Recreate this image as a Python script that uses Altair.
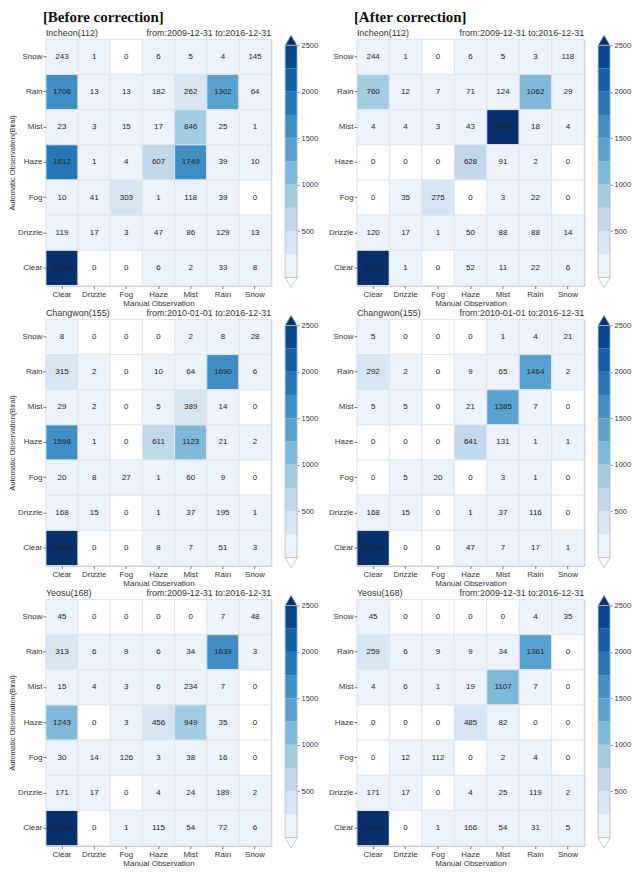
import altair as alt
import pandas as pd

# Category order (rows top->bottom, columns left->right)
auto_obs = ["Snow", "Rain", "Mist", "Haze", "Fog", "Drizzle", "Clear"]
manual_obs = ["Clear", "Drizzle", "Fog", "Haze", "Mist", "Rain", "Snow"]

# Confusion matrices: rows = auto_obs, cols = manual_obs
incheon_before = [
    [243, 1, 0, 6, 5, 4, 145],
    [1706, 13, 13, 182, 262, 1302, 64],
    [23, 3, 15, 17, 846, 25, 1],
    [1812, 1, 4, 607, 1749, 39, 10],
    [10, 41, 303, 1, 118, 39, 0],
    [119, 17, 3, 47, 86, 129, 13],
    [7305, 0, 0, 6, 2, 33, 8],
]
incheon_after = [
    [244, 1, 0, 6, 5, 3, 118],
    [760, 12, 7, 71, 124, 1062, 29],
    [4, 4, 3, 43, 2534, 18, 4],
    [0, 0, 0, 628, 91, 2, 0],
    [0, 35, 275, 0, 3, 22, 0],
    [120, 17, 1, 50, 88, 88, 14],
    [9131, 1, 0, 52, 11, 22, 6],
]
changwon_before = [
    [8, 0, 0, 0, 2, 8, 28],
    [315, 2, 0, 10, 64, 1690, 6],
    [29, 2, 0, 5, 389, 14, 0],
    [1598, 1, 0, 611, 1123, 21, 2],
    [20, 8, 27, 1, 60, 9, 0],
    [168, 15, 0, 1, 37, 195, 1],
    [11099, 0, 0, 8, 7, 51, 3],
]
changwon_after = [
    [5, 0, 0, 0, 1, 4, 21],
    [292, 2, 0, 9, 65, 1464, 2],
    [5, 5, 0, 21, 1385, 7, 0],
    [0, 0, 0, 641, 131, 1, 1],
    [0, 5, 20, 0, 3, 1, 0],
    [168, 15, 0, 1, 37, 116, 0],
    [12714, 0, 0, 47, 7, 17, 1],
]
yeosu_before = [
    [45, 0, 0, 0, 0, 7, 48],
    [313, 6, 9, 6, 34, 1639, 3],
    [15, 4, 3, 6, 234, 7, 0],
    [1243, 0, 3, 456, 949, 35, 0],
    [30, 14, 126, 3, 38, 16, 0],
    [171, 17, 0, 4, 24, 189, 2],
    [11720, 0, 1, 115, 54, 72, 6],
]
yeosu_after = [
    [45, 0, 0, 0, 0, 4, 35],
    [259, 6, 9, 9, 34, 1361, 0],
    [4, 6, 1, 19, 1107, 7, 0],
    [0, 0, 0, 485, 82, 0, 0],
    [0, 12, 112, 0, 2, 4, 0],
    [171, 17, 0, 4, 25, 119, 2],
    [12992, 0, 1, 166, 54, 31, 5],
]

stations = ["Incheon(112)", "Changwon(155)", "Yeosu(168)"]
periods = ["from:2009-12-31 to:2016-12-31",
           "from:2010-01-01 to:2016-12-31",
           "from:2009-12-31 to:2016-12-31"]

# colour bar
cbar_edges = [0, 250, 500, 750, 1000, 1250, 1500, 1750, 2000, 2250, 2500]
cbar_ticks = [500, 1000, 1500, 2000, 2500]
thresholds = [1, 250, 500, 750, 1000, 1250, 1500, 1750, 2000, 2250, 2500]
colors = ["#ffffff", "#edf3fa", "#d6e5f4", "#bfd8ec", "#a2cce2", "#7eb8da",
          "#59a2cf", "#3f8fc4", "#2777b8", "#1360a7", "#08488f", "#08306b"]

FONT = "Liberation Sans"
PW_L, PW_R, PH = 226, 228, 247
CBW = 12      # width of the colour bar itself
CWL = 58      # left colour-bar cell (bar + room for its labels)
COLSP = 14

color_scale = alt.Scale(type="threshold", domain=thresholds, range=colors)


def panel(matrix, station, period, show_ytitle, big_title, pw):
    rows = []
    for i, a in enumerate(auto_obs):
        for j, m in enumerate(manual_obs):
            rows.append({"auto": a, "manual": m, "count": matrix[i][j]})
    df = pd.DataFrame(rows)
    x = alt.X("manual:N", sort=manual_obs, scale=alt.Scale(domain=manual_obs),
              axis=alt.Axis(title="Manual Observation", labelAngle=0, labelFontSize=8,
                            titleFontSize=8, titleFontWeight="normal", tickSize=3,
                            labelPadding=2, titlePadding=1, domain=False,
                            tickColor="#777", labelColor="#333", titleColor="#333"))
    yaxis_kwargs = dict(labelFontSize=8, tickSize=3, labelPadding=1, domain=False,
                        tickColor="#777", labelColor="#333")
    if show_ytitle:
        y_axis = alt.Axis(title="Automatic Observation(Biral)", titleFontSize=7.5,
                          titleFontWeight="normal", titlePadding=1, titleColor="#333",
                          **yaxis_kwargs)
    else:
        y_axis = alt.Axis(title=None, **yaxis_kwargs)
    y = alt.Y("auto:N", sort=auto_obs, scale=alt.Scale(domain=auto_obs), axis=y_axis)

    rect = alt.Chart(df).mark_rect(stroke="#e2e6eb", strokeWidth=1).encode(
        x=x, y=y,
        color=alt.Color("count:Q", scale=color_scale, legend=None))
    txt = alt.Chart(df).mark_text(fontSize=8, color="#222", font=FONT).encode(
        x=x, y=y, text=alt.Text("count:Q", format="d"))
    lab = alt.Chart(pd.DataFrame({"t": [station]})).mark_text(
        align="left", baseline="alphabetic", fontSize=9, color="#333", font=FONT
    ).encode(text="t:N", x=alt.value(0), y=alt.value(-3))
    per = alt.Chart(pd.DataFrame({"t": [period]})).mark_text(
        align="right", baseline="alphabetic", fontSize=9, color="#333", font=FONT
    ).encode(text="t:N", x=alt.value(pw), y=alt.value(-3))
    layers = [rect, txt, lab, per]
    if big_title:
        big = alt.Chart(pd.DataFrame({"t": [big_title]})).mark_text(
            align="left", baseline="alphabetic", fontSize=15, fontWeight="bold",
            font="Liberation Serif", color="#111"
        ).encode(text="t:N", x=alt.value(-3), y=alt.value(-17))
        layers.append(big)
    return alt.layer(*layers).properties(width=pw, height=PH)


def colorbar(cell_width):
    bins = pd.DataFrame({
        "lo": cbar_edges[:-1],
        "hi": cbar_edges[1:],
    })
    bins["mid"] = (bins["lo"] + bins["hi"]) / 2
    yscale = alt.Scale(domain=[0, 2500], range=[239, 6], nice=False, zero=False)
    cb_axis = alt.Axis(orient="right", offset=-(cell_width - CBW), values=cbar_ticks,
                       format="d", title=None, grid=False, domain=False, tickSize=2,
                       labelPadding=2, labelFontSize=7.5,
                       tickColor="#777", labelColor="#333")
    bar = alt.Chart(bins).mark_rect().encode(
        x=alt.value(0), x2=alt.value(CBW),
        y=alt.Y("lo:Q", scale=yscale, axis=cb_axis),
        y2="hi:Q",
        color=alt.Color("mid:Q", scale=color_scale, legend=None))
    outline = alt.Chart(pd.DataFrame({"lo": [cbar_edges[0]], "hi": [cbar_edges[-1]]})).mark_rect(
        fillOpacity=0, stroke="#b8b8b8", strokeWidth=0.8
    ).encode(x=alt.value(0), x2=alt.value(CBW),
             y=alt.Y("lo:Q", scale=yscale, axis=cb_axis), y2="hi:Q")
    over = alt.Chart(pd.DataFrame({"lo": [cbar_edges[-1]]})).mark_point(
        shape="M-1,0L1,0L0,-1.7Z", size=CBW * CBW, filled=True, fill=colors[-1],
        stroke="#b8b8b8", strokeWidth=0.8, opacity=1
    ).encode(x=alt.value(CBW / 2), y=alt.Y("lo:Q", scale=yscale, axis=cb_axis))
    under = alt.Chart(pd.DataFrame({"lo": [cbar_edges[0]]})).mark_point(
        shape="M-1,0L1,0L0,1.7Z", size=CBW * CBW, filled=True, fill=colors[0],
        stroke="#b8b8b8", strokeWidth=0.8, opacity=1
    ).encode(x=alt.value(CBW / 2), y=alt.Y("lo:Q", scale=yscale, axis=cb_axis))
    return alt.layer(bar, outline, over, under).properties(
        width=cell_width, height=PH, view=alt.ViewBackground(stroke="transparent"))


before = [incheon_before, changwon_before, yeosu_before]
after = [incheon_after, changwon_after, yeosu_after]

cells = []
for k in range(3):
    cells.append(panel(before[k], stations[k], periods[k], True,
                       "[Before correction]" if k == 0 else None, PW_L))
    cells.append(colorbar(CWL))
    cells.append(panel(after[k], stations[k], periods[k], False,
                       "[After correction]" if k == 0 else None, PW_R))
    cells.append(colorbar(CBW))

chart = alt.concat(
    *cells, columns=4, bounds="flush",
    spacing=alt.RowColnumber(row=34, column=COLSP)
).properties(
    padding={"left": 0, "top": 0, "right": 0, "bottom": 0}
).configure(font=FONT).configure_view(stroke="#a8a8a8", strokeWidth=1)

chart.save("out.html", embed_options={"renderer": "svg", "actions": False})
